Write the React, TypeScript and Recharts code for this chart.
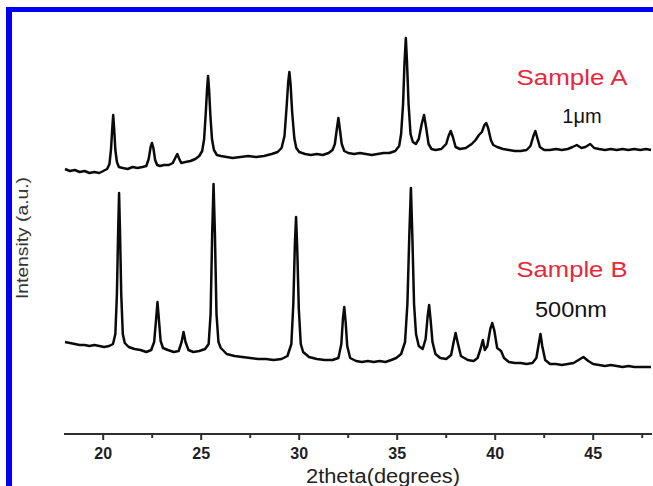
import { LineChart, Line, XAxis, YAxis, Customized } from "recharts";

// XRD patterns: [2theta (deg), intensity (a.u.)]
const sampleA: [number, number][] = [
  [18.05, 265], [18.3, 263], [18.55, 264], [18.8, 262], [19.05, 263], [19.3, 261],
  [19.55, 262], [19.8, 261], [20.0, 263], [20.2, 265], [20.32, 270], [20.4, 285],
  [20.46, 305], [20.51, 319], [20.56, 305], [20.62, 284], [20.7, 272], [20.8, 267],
  [21.0, 266], [21.25, 265], [21.5, 267], [21.75, 266], [22.0, 267], [22.2, 268],
  [22.32, 275], [22.42, 287], [22.49, 291], [22.56, 286], [22.65, 274], [22.75, 269],
  [22.9, 268], [23.1, 269], [23.35, 269], [23.55, 271], [23.7, 277], [23.78, 280],
  [23.86, 276], [23.98, 271], [24.2, 272], [24.45, 273], [24.7, 275], [24.9, 278],
  [25.05, 283], [25.15, 295], [25.23, 320], [25.3, 345], [25.35, 358], [25.4, 345],
  [25.47, 318], [25.55, 295], [25.65, 284], [25.8, 279], [26.0, 278], [26.3, 277],
  [26.6, 276], [27.0, 277], [27.4, 278], [27.8, 277], [28.2, 278], [28.6, 280],
  [28.9, 282], [29.1, 286], [29.25, 298], [29.35, 325], [29.44, 352], [29.5, 362],
  [29.56, 350], [29.64, 322], [29.75, 296], [29.85, 286], [30.0, 282], [30.3, 280],
  [30.6, 279], [30.9, 280], [31.2, 279], [31.5, 281], [31.7, 284], [31.82, 290],
  [31.92, 305], [32.0, 316], [32.08, 304], [32.17, 290], [32.3, 283], [32.5, 281],
  [32.8, 280], [33.1, 281], [33.4, 280], [33.7, 279], [34.0, 280], [34.3, 281],
  [34.6, 281], [34.9, 283], [35.1, 288], [35.2, 300], [35.3, 330], [35.37, 370],
  [35.44, 396], [35.5, 372], [35.58, 330], [35.68, 300], [35.8, 292], [35.95, 290],
  [36.1, 295], [36.25, 310], [36.37, 319], [36.48, 306], [36.6, 290], [36.75, 285],
  [36.95, 284], [37.25, 285], [37.5, 290], [37.62, 298], [37.73, 303], [37.84, 297],
  [37.98, 287], [38.2, 285], [38.5, 286], [38.8, 290], [39.0, 294], [39.17, 299],
  [39.32, 302], [39.45, 309], [39.54, 311], [39.64, 306], [39.78, 294], [39.9, 289],
  [40.1, 287], [40.4, 285], [40.7, 284], [41.0, 283], [41.3, 283], [41.6, 284],
  [41.8, 288], [41.95, 298], [42.05, 303], [42.15, 296], [42.28, 287], [42.5, 284],
  [42.8, 284], [43.1, 285], [43.4, 284], [43.7, 285], [43.95, 287], [44.16, 289],
  [44.4, 286], [44.6, 287], [44.85, 290], [45.05, 286], [45.3, 285], [45.6, 284],
  [45.9, 285], [46.2, 284], [46.5, 285], [46.8, 284], [47.1, 285], [47.4, 284],
  [47.7, 285], [47.95, 284],
];

const sampleB: [number, number][] = [
  [18.05, 92], [18.3, 91], [18.55, 90], [18.8, 89], [19.05, 89], [19.3, 88],
  [19.55, 89], [19.8, 88], [20.05, 87], [20.3, 88], [20.5, 90], [20.62, 100],
  [20.7, 140], [20.76, 200], [20.81, 241], [20.86, 200], [20.92, 140], [21.0, 100],
  [21.1, 91], [21.3, 87], [21.6, 85], [21.9, 84], [22.2, 82], [22.45, 84],
  [22.6, 92], [22.7, 115], [22.77, 132], [22.84, 115], [22.93, 93], [23.05, 86],
  [23.3, 84], [23.6, 82], [23.85, 83], [24.0, 92], [24.1, 102], [24.2, 92],
  [24.35, 84], [24.6, 82], [24.9, 83], [25.2, 85], [25.38, 90], [25.48, 120],
  [25.56, 200], [25.63, 250], [25.7, 200], [25.78, 120], [25.88, 92], [26.0, 86],
  [26.3, 80], [26.7, 78], [27.1, 77], [27.5, 76], [27.9, 75], [28.3, 75],
  [28.7, 74], [29.1, 75], [29.4, 78], [29.6, 90], [29.7, 130], [29.78, 190],
  [29.84, 217], [29.9, 185], [29.98, 125], [30.08, 90], [30.2, 82], [30.5, 77],
  [30.9, 75], [31.3, 74], [31.7, 74], [32.0, 76], [32.15, 90], [32.23, 115],
  [32.3, 127], [32.37, 112], [32.45, 88], [32.6, 76], [32.9, 73], [33.2, 72],
  [33.5, 73], [33.8, 72], [34.1, 73], [34.4, 72], [34.7, 74], [34.95, 76],
  [35.2, 80], [35.4, 92], [35.52, 130], [35.62, 200], [35.7, 246], [35.77, 200],
  [35.86, 130], [35.96, 100], [36.1, 88], [36.3, 85], [36.45, 95], [36.55, 117],
  [36.63, 129], [36.7, 115], [36.8, 92], [36.95, 80], [37.2, 76], [37.5, 75],
  [37.75, 79], [37.88, 92], [37.98, 101], [38.08, 92], [38.25, 78], [38.6, 74],
  [38.9, 73], [39.1, 76], [39.25, 85], [39.37, 94], [39.47, 84], [39.6, 88],
  [39.75, 105], [39.85, 111], [39.95, 104], [40.1, 86], [40.3, 83], [40.45, 76],
  [40.7, 72], [41.0, 71], [41.3, 71], [41.6, 70], [41.9, 71], [42.1, 76],
  [42.22, 90], [42.31, 100], [42.4, 88], [42.55, 74], [42.8, 70], [43.1, 70],
  [43.4, 69], [43.7, 70], [44.0, 71], [44.25, 74], [44.5, 77], [44.75, 73],
  [45.0, 70], [45.3, 69], [45.6, 68], [45.9, 69], [46.2, 68], [46.5, 67],
  [46.8, 68], [47.1, 67], [47.4, 67], [47.7, 67], [47.95, 67],
];

const xTicks = [20, 22.5, 25, 27.5, 30, 32.5, 35, 37.5, 40, 42.5, 45, 47.5];

const dataA = sampleA.map(([x, y]) => ({ x, y }));
const dataB = sampleB.map(([x, y]) => ({ x, y }));

const FONT = '"Liberation Sans", Arial, sans-serif';
const AXIS = "#2e2e2e";

function TwoThetaTick(props: any) {
  const { x, y, payload } = props;
  const major = payload.value % 5 === 0;
  return (
    <g>
      <line x1={x} x2={x} y1={y} y2={y + (major ? 6 : 4)} stroke={AXIS} strokeWidth={2} />
      {major && (
        <text x={x} y={y + 25} textAnchor="middle" fontSize={16} fontWeight="bold" fill="#1e1e1e" fontFamily={FONT}>
          {payload.value}
        </text>
      )}
    </g>
  );
}

function Annotations() {
  return (
    <g fontFamily={FONT}>
      <text x={572} y={85} textAnchor="middle" fontSize={22} fill="#e6283c" textLength={111} lengthAdjust="spacingAndGlyphs">
        Sample A
      </text>
      <text x={582} y={123} textAnchor="middle" fontSize={20} fill="#111">
        1μm
      </text>
      <text x={572} y={277} textAnchor="middle" fontSize={22} fill="#e6283c" textLength={111} lengthAdjust="spacingAndGlyphs">
        Sample B
      </text>
      <text x={571} y={317} textAnchor="middle" fontSize={22} fill="#111" textLength={72} lengthAdjust="spacingAndGlyphs">
        500nm
      </text>
      <text x={383} y={483} textAnchor="middle" fontSize={20} fill="#222" textLength={154} lengthAdjust="spacingAndGlyphs">
        2theta(degrees)
      </text>
      <text transform="translate(28,238) rotate(-90)" textAnchor="middle" fontSize={16} fill="#333" textLength={122} lengthAdjust="spacingAndGlyphs">
        Intensity (a.u.)
      </text>
    </g>
  );
}

export default function App() {
  return (
    <div style={{ position: "absolute", left: 0, top: 0, width: 653, height: 486, background: "#fff", overflow: "hidden" }}>
      <div style={{ position: "absolute", left: 6, top: 7, width: 6, height: 479, background: "#0000f0" }} />
      <div style={{ position: "absolute", left: 6, top: 7, width: 647, height: 5, background: "#0000f0" }} />
      <div style={{ position: "absolute", left: 0, top: 0 }}>
        <LineChart width={653} height={486} margin={{ top: 17, right: 1, bottom: 0, left: 64 }}>
          <XAxis
            xAxisId="bottom"
            type="number"
            dataKey="x"
            domain={[18, 48]}
            ticks={xTicks}
            interval={0}
            allowDataOverflow
            height={52}
            tickSize={0}
            tickMargin={0}
            tickLine={false}
            tick={<TwoThetaTick />}
            axisLine={{ stroke: AXIS, strokeWidth: 2 }}
          />
          <XAxis
            xAxisId="top"
            orientation="top"
            type="number"
            dataKey="x"
            domain={[18, 48]}
            height={0}
            tick={false}
            tickLine={false}
            axisLine={{ stroke: AXIS, strokeWidth: 2 }}
          />
          <YAxis
            yAxisId="left"
            type="number"
            domain={[0, 417]}
            width={0}
            tick={false}
            tickLine={false}
            axisLine={{ stroke: AXIS, strokeWidth: 2 }}
          />
          <YAxis
            yAxisId="right"
            orientation="right"
            type="number"
            domain={[0, 417]}
            width={0}
            tick={false}
            tickLine={false}
            axisLine={{ stroke: "#bbb", strokeWidth: 1 }}
          />
          <Line
            data={dataA}
            dataKey="y"
            xAxisId="bottom"
            yAxisId="left"
            type="linear"
            stroke="#0a0a0a"
            strokeWidth={2.5}
            strokeLinejoin="round"
            dot={false}
            isAnimationActive={false}
          />
          <Line
            data={dataB}
            dataKey="y"
            xAxisId="bottom"
            yAxisId="left"
            type="linear"
            stroke="#0a0a0a"
            strokeWidth={2.5}
            strokeLinejoin="round"
            dot={false}
            isAnimationActive={false}
          />
          <Customized component={Annotations} />
        </LineChart>
      </div>
    </div>
  );
}
